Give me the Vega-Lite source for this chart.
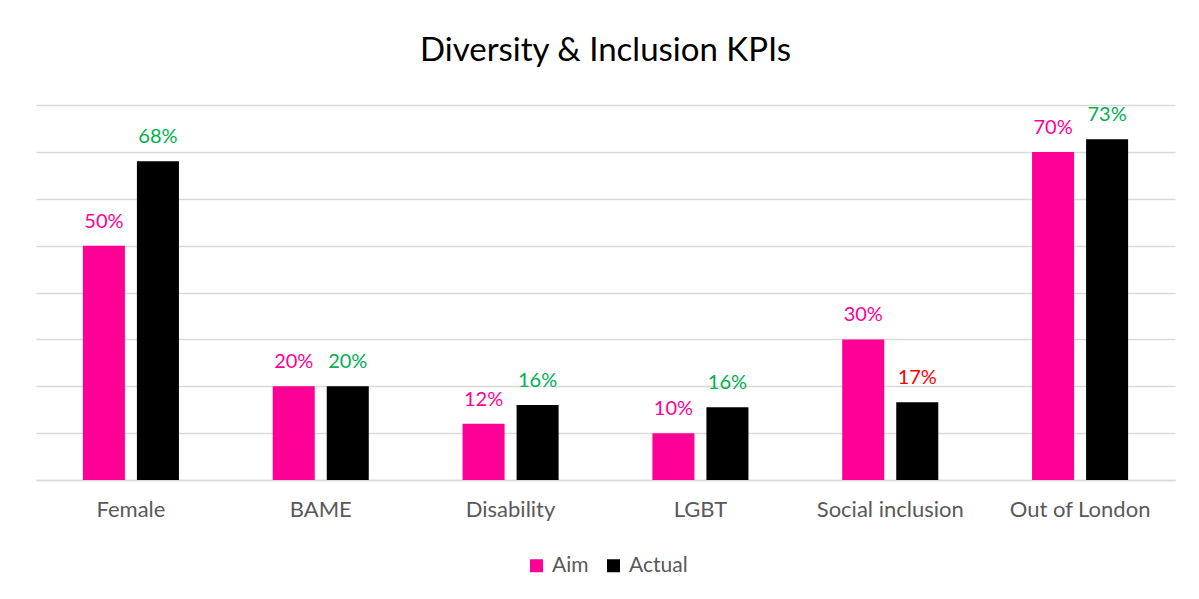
{
  "$schema": "https://vega.github.io/schema/vega-lite/v6.json",
  "autosize": {"type": "none"},
  "width": 1139,
  "height": 375,
  "padding": {"left": 36, "top": 105, "right": 24, "bottom": 119},
  "background": "white",
  "title": {
    "text": "Diversity & Inclusion KPIs",
    "anchor": "middle",
    "frame": "group",
    "font": "Lato",
    "fontSize": 33,
    "fontWeight": "normal",
    "color": "#000000",
    "baseline": "alphabetic",
    "offset": 11
  },
  "data": {
    "values": [
      {"category": "Female", "series": "Aim", "value": 0.50, "status": "Aim"},
      {"category": "Female", "series": "Actual", "value": 0.68, "status": "Met"},
      {"category": "BAME", "series": "Aim", "value": 0.20, "status": "Aim"},
      {"category": "BAME", "series": "Actual", "value": 0.20, "status": "Met"},
      {"category": "Disability", "series": "Aim", "value": 0.12, "status": "Aim"},
      {"category": "Disability", "series": "Actual", "value": 0.16, "status": "Met"},
      {"category": "LGBT", "series": "Aim", "value": 0.10, "status": "Aim"},
      {"category": "LGBT", "series": "Actual", "value": 0.155, "status": "Met"},
      {"category": "Social inclusion", "series": "Aim", "value": 0.30, "status": "Aim"},
      {"category": "Social inclusion", "series": "Actual", "value": 0.166, "status": "Below"},
      {"category": "Out of London", "series": "Aim", "value": 0.70, "status": "Aim"},
      {"category": "Out of London", "series": "Actual", "value": 0.727, "status": "Met"}
    ]
  },
  "encoding": {
    "x": {
      "field": "category",
      "type": "nominal",
      "sort": ["Female", "BAME", "Disability", "LGBT", "Social inclusion", "Out of London"],
      "scale": {"paddingInner": 0.494, "paddingOuter": 0.247},
      "axis": {
        "title": null,
        "labelAngle": 0,
        "labelFont": "Lato",
        "labelFontSize": 22,
        "labelColor": "#595959",
        "labelPadding": 19,
        "ticks": false,
        "domain": true,
        "domainColor": "#d9d9d9",
        "domainWidth": 1.5,
        "grid": false
      }
    },
    "xOffset": {
      "field": "series",
      "type": "nominal",
      "sort": ["Aim", "Actual"],
      "scale": {"paddingInner": 0.222, "paddingOuter": 0}
    },
    "y": {
      "field": "value",
      "type": "quantitative",
      "scale": {"domain": [0, 0.8], "nice": false},
      "axis": {
        "title": null,
        "labels": false,
        "ticks": false,
        "domain": false,
        "values": [0, 0.1, 0.2, 0.3, 0.4, 0.5, 0.6, 0.7, 0.8],
        "grid": true,
        "gridColor": "#d9d9d9",
        "gridWidth": 1.5
      }
    }
  },
  "layer": [
    {
      "mark": {"type": "bar"},
      "encoding": {
        "color": {
          "field": "series",
          "type": "nominal",
          "scale": {"domain": ["Aim", "Actual"], "range": ["#FF0096", "#000000"]},
          "legend": {
            "title": null,
            "orient": "none",
            "direction": "horizontal",
            "legendX": 490,
            "legendY": 450,
            "symbolType": "square",
            "symbolSize": 169,
            "symbolStrokeWidth": 0,
            "symbolOpacity": 1,
            "labelFont": "Lato",
            "labelFontSize": 21,
            "labelColor": "#595959",
            "labelOffset": 5,
            "columnPadding": 14
          }
        }
      }
    },
    {
      "mark": {"type": "text", "baseline": "alphabetic", "align": "center", "dy": -18, "font": "Lato", "fontSize": 20},
      "encoding": {
        "text": {"field": "value", "type": "quantitative", "format": ".0%"},
        "color": {
          "field": "status",
          "type": "nominal",
          "scale": {"domain": ["Aim", "Met", "Below"], "range": ["#FF0096", "#00B050", "#FF0000"]},
          "legend": null
        }
      }
    }
  ],
  "resolve": {"scale": {"color": "independent"}},
  "config": {"view": {"stroke": null}}
}
